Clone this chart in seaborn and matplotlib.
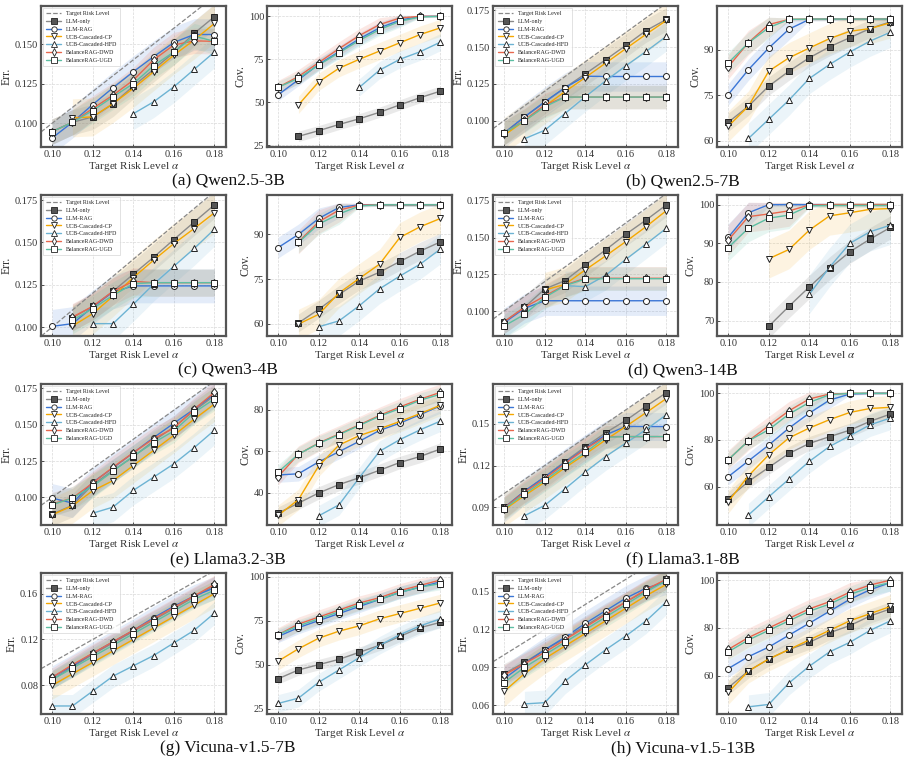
import numpy as np
import pandas as pd
import matplotlib
matplotlib.use("Agg")
import matplotlib.pyplot as plt
from matplotlib.lines import Line2D
from matplotlib.ticker import FormatStrFormatter
import seaborn as sns

N = np.nan
alphas = [0.10, 0.11, 0.12, 0.13, 0.14, 0.15, 0.16, 0.17, 0.18]
methods = ["LLM-only", "LLM-RAG", "UCB-Cascaded-CP", "UCB-Cascaded-HFD",
           "BalanceRAG-DWD", "BalanceRAG-UGD"]
captions = ["(a) Qwen2.5-3B", "(b) Qwen2.5-7B", "(c) Qwen3-4B", "(d) Qwen3-14B",
            "(e) Llama3.2-3B", "(f) Llama3.1-8B", "(g) Vicuna-v1.5-7B", "(h) Vicuna-v1.5-13B"]

# rows: LLM-only, LLM-RAG, CP, HFD, DWD, UGD
qwen25_3b_err = [
    [0.0947, 0.1006, 0.1040, 0.1122, 0.1234, 0.1340, 0.1447, 0.1567, 0.1673],
    [0.0907, 0.1006, 0.1118, 0.1224, 0.1325, 0.1420, 0.1510, 0.1560, 0.1560],
    [N, 0.1034, 0.1040, 0.1124, 0.1220, 0.1325, 0.1430, 0.1525, 0.1630],
    [N, N, N, N, 0.1060, 0.1135, 0.1230, 0.1340, 0.1450],
    [0.0947, 0.1006, 0.1093, 0.1177, 0.1272, 0.1400, 0.1494, 0.1520, 0.1517],
    [0.0947, 0.1006, 0.1080, 0.1167, 0.1250, 0.1363, 0.1450, 0.1550, 0.1517],
]
qwen25_3b_cov = [
    [N, 30.2, 33.5, 37.1, 40.4, 44.2, 48.5, 52.7, 56.5],
    [54.4, 63.1, 72.1, 79.4, 86.9, 93.3, 97.7, 100, 100],
    [N, 48.5, 61.9, 69.8, 75.0, 79.8, 84.6, 89.4, 93.3],
    [N, N, N, N, 58.7, 68.7, 75.0, 79.4, 85.0],
    [58.7, 65.0, 73.1, 81.2, 88.8, 95.2, 99.0, 100, 100],
    [58.7, 64.0, 71.7, 78.8, 86.0, 92.3, 97.1, 99.6, 100],
]
qwen25_7b_err = [
    [0.0915, 0.1025, 0.1124, 0.1224, 0.1318, 0.1414, 0.1512, 0.1613, 0.1689],
    [0.0915, 0.1025, 0.1128, 0.1224, 0.1302, 0.1300, 0.1300, 0.1300, 0.1300],
    [0.0900, 0.0998, 0.1098, 0.1197, 0.1293, 0.1391, 0.1490, 0.1588, 0.1682],
    [N, 0.0876, 0.0934, 0.1048, 0.1162, 0.1270, 0.1373, 0.1471, 0.1574],
    [0.0915, 0.1002, 0.1105, 0.1160, 0.1160, 0.1160, 0.1160, 0.1160, 0.1160],
    [0.0915, 0.0998, 0.1094, 0.1160, 0.1160, 0.1160, 0.1160, 0.1160, 0.1160],
]
qwen25_7b_cov = [
    [66.1, 71.4, 78.0, 82.9, 87.3, 90.9, 93.9, 96.9, 99.1],
    [75.2, 83.4, 90.5, 96.7, 99.9, 100, 100, 100, 100],
    [64.8, 71.4, 82.9, 87.3, 90.5, 93.6, 96.0, 96.9, 98.8],
    [N, 60.8, 67.1, 73.4, 80.5, 85.1, 89.2, 92.8, 95.7],
    [84.3, 92.3, 98.2, 99.9, 100, 100, 100, 100, 100],
    [85.6, 92.2, 97.2, 99.9, 100, 100, 100, 100, 100],
]
qwen3_4b_err = [
    [N, 0.1055, 0.1122, 0.1211, 0.1312, 0.1412, 0.1517, 0.1620, 0.1722],
    [0.1004, 0.1020, 0.1118, 0.1207, 0.1243, 0.1243, 0.1243, 0.1243, 0.1243],
    [N, 0.1006, 0.1079, 0.1182, 0.1292, 0.1395, 0.1493, 0.1582, 0.1675],
    [N, N, 0.1020, 0.1020, 0.1134, 0.1253, 0.1359, 0.1464, 0.1578],
    [N, 0.1059, 0.1122, 0.1211, 0.1270, 0.1262, 0.1262, 0.1262, 0.1262],
    [N, 0.1040, 0.1109, 0.1187, 0.1256, 0.1262, 0.1262, 0.1262, 0.1262],
]
qwen3_4b_cov = [
    [N, 60.2, 64.8, 69.8, 74.3, 77.3, 80.9, 84.4, 87.5],
    [85.6, 90.0, 95.4, 99.1, 100, 100, 100, 100, 100],
    [N, 59.8, 63.1, 70.3, 75.2, 80.0, 89.0, 92.6, 95.4],
    [N, N, 58.9, 60.9, 66.0, 71.7, 76.0, 80.0, 85.1],
    [N, 87.5, 94.3, 98.2, 99.9, 100, 100, 100, 100],
    [N, 87.3, 93.5, 96.9, 99.6, 100, 100, 100, 100],
]
qwen3_14b_err = [
    [0.0927, 0.1025, 0.1150, 0.1207, 0.1314, 0.1416, 0.1523, 0.1620, 0.1723],
    [0.0920, 0.1018, 0.1070, 0.1070, 0.1070, 0.1070, 0.1070, 0.1070, 0.1070],
    [N, N, 0.1143, 0.1182, 0.1280, 0.1375, 0.1473, 0.1575, 0.1684],
    [N, N, N, 0.1173, 0.1166, 0.1243, 0.1352, 0.1457, 0.1564],
    [0.0927, 0.1025, 0.1102, 0.1177, 0.1223, 0.1223, 0.1223, 0.1223, 0.1223],
    [0.0898, 0.0977, 0.1093, 0.1173, 0.1218, 0.1220, 0.1220, 0.1220, 0.1220],
]
qwen3_14b_cov = [
    [N, N, 68.5, 73.7, 78.7, 83.5, 87.8, 91.1, 94.1],
    [91.5, 97.9, 100, 100, 100, 100, 100, 100, 100],
    [N, N, 86.0, 88.4, 93.4, 97.1, 97.9, 98.8, 99.0],
    [N, N, N, N, 76.8, 83.8, 90.0, 93.0, 94.7],
    [90.8, 96.9, 97.6, 98.4, 99.9, 100, 100, 100, 100],
    [88.9, 93.9, 96.5, 97.3, 99.7, 99.8, 99.8, 99.8, 99.8],
]
llama32_3b_err = [
    [0.0885, 0.0945, 0.1088, 0.1185, 0.1279, 0.1388, 0.1485, 0.1596, 0.1700],
    [0.0995, 0.0961, 0.1104, 0.1203, 0.1307, 0.1411, 0.1510, 0.1607, 0.1711],
    [0.0880, 0.0942, 0.1046, 0.1115, 0.1219, 0.1323, 0.1427, 0.1538, 0.1642],
    [N, N, 0.0891, 0.0933, 0.1048, 0.1139, 0.1231, 0.1342, 0.1462],
    [0.0954, 0.0995, 0.1099, 0.1208, 0.1307, 0.1404, 0.1476, 0.1607, 0.1722],
    [0.0949, 0.0995, 0.1076, 0.1180, 0.1284, 0.1376, 0.1457, 0.1584, 0.1677],
]
llama32_3b_cov = [
    [30.3, 35.1, 40.0, 44.0, 47.3, 50.9, 54.6, 57.5, 61.1],
    [48.6, 49.2, 54.9, 59.8, 64.8, 70.0, 73.5, 77.6, 81.8],
    [29.2, 36.8, 53.0, 63.0, 67.5, 70.8, 74.3, 78.1, 82.1],
    [N, N, 29.0, 34.3, 47.3, 60.0, 65.6, 70.3, 74.5],
    [47.8, 58.6, 64.0, 68.3, 72.7, 77.2, 81.3, 85.0, 88.3],
    [50.0, 58.6, 63.8, 68.0, 72.4, 76.8, 80.5, 84.5, 87.4],
]
llama31_8b_err = [
    [0.0900, 0.1016, 0.1120, 0.1229, 0.1335, 0.1435, 0.1524, 0.1626, 0.1723],
    [0.0895, 0.1016, 0.1118, 0.1222, 0.1323, 0.1420, 0.1481, 0.1480, 0.1480],
    [0.0883, 0.0985, 0.1081, 0.1185, 0.1282, 0.1384, 0.1481, 0.1580, 0.1681],
    [N, 0.0840, 0.0915, 0.1033, 0.1154, 0.1265, 0.1362, 0.1459, 0.1565],
    [0.0895, 0.1009, 0.1106, 0.1215, 0.1319, 0.1408, 0.1408, 0.1408, 0.1408],
    [0.0890, 0.0997, 0.1094, 0.1198, 0.1294, 0.1403, 0.1408, 0.1408, 0.1408],
]
llama31_8b_cov = [
    [54.8, 62.2, 68.2, 74.2, 78.5, 81.4, 84.2, 88.0, 91.1],
    [64.2, 71.0, 77.8, 85.1, 91.5, 97.1, 99.7, 100, 100],
    [53.5, 64.6, 73.6, 80.9, 85.1, 88.7, 91.8, 93.5, 94.0],
    [N, 47.8, 55.6, 63.2, 70.8, 77.2, 81.8, 86.5, 89.4],
    [71.5, 79.6, 86.1, 92.5, 97.6, 99.7, 100, 100, 100],
    [71.5, 79.6, 84.4, 91.1, 96.1, 99.4, 100, 100, 100],
]
vicuna_7b_err = [
    [0.085, 0.096, 0.107, 0.117, 0.127, 0.137, 0.147, 0.157, 0.167],
    [0.087, 0.097, 0.108, 0.118, 0.128, 0.139, 0.149, 0.158, 0.165],
    [0.080, 0.090, 0.100, 0.110, 0.120, 0.130, 0.140, 0.150, 0.160],
    [0.062, 0.062, 0.075, 0.088, 0.097, 0.106, 0.117, 0.128, 0.143],
    [0.087, 0.098, 0.108, 0.118, 0.128, 0.138, 0.148, 0.158, 0.168],
    [0.085, 0.095, 0.105, 0.115, 0.125, 0.135, 0.145, 0.155, 0.163],
]
vicuna_7b_cov = [
    [42, 47, 50, 53, 57, 61, 66, 71, 74],
    [66, 71, 75, 79, 83, 87, 91, 94, 97],
    [52, 59, 65, 69, 72, 76, 79, 82, 85],
    [28, 31, 40, 47, 54, 61, 67, 72, 76],
    [67, 73, 77, 81, 85, 88, 92, 95, 98],
    [67, 72, 76, 80, 84, 87, 91, 94, 96],
]
vicuna_13b_err = [
    [0.085, 0.094, 0.104, 0.113, 0.123, 0.133, 0.142, 0.151, 0.160],
    [0.081, 0.093, 0.104, 0.114, 0.125, 0.135, 0.145, 0.153, 0.158],
    [0.071, 0.085, 0.097, 0.107, 0.117, 0.127, 0.137, 0.147, 0.156],
    [N, 0.061, 0.062, 0.079, 0.092, 0.104, 0.115, 0.127, 0.142],
    [0.084, 0.093, 0.102, 0.112, 0.122, 0.132, 0.142, 0.152, 0.160],
    [0.078, 0.090, 0.100, 0.110, 0.120, 0.130, 0.140, 0.150, 0.159],
]
vicuna_13b_cov = [
    [55, 62, 67, 71, 74, 78, 81, 85, 88],
    [63, 68, 72, 77, 82, 87, 92, 96, 99],
    [53, 62, 67, 71, 75, 79, 83, 86, 89],
    [N, 47, 48, 57, 64, 70, 74, 79, 83],
    [71, 76, 80, 84, 88, 91, 95, 98, 100],
    [70, 75, 79, 83, 87, 90, 94, 97, 99],
]

# approximate half-width of the shaded bands, per method
err_band = [0.008, 0.010, 0.012, 0.010, 0.008, 0.008]
cov_band = [3.0, 3.5, 5.0, 5.0, 4.0, 3.5]

err_ticks = [[0.100, 0.125, 0.150], [0.100, 0.125, 0.150, 0.175],
             [0.100, 0.125, 0.150, 0.175], [0.100, 0.125, 0.150, 0.175],
             [0.100, 0.125, 0.150, 0.175], [0.09, 0.12, 0.15],
             [0.08, 0.12, 0.16], [0.06, 0.09, 0.12, 0.15]]
cov_ticks = [[25, 50, 75, 100], [60, 75, 90], [60, 75, 90], [70, 80, 90, 100],
             [40, 60, 80], [60, 80, 100], [25, 50, 75, 100], [60, 80, 100]]
err_ylim = [(0.085, 0.174), (0.082, 0.178), (0.0947, 0.178), (0.083, 0.179),
            (0.081, 0.178), (0.0774, 0.1785), (0.055, 0.178), (0.053, 0.165)]
cov_ylim = [(24, 106), (58, 104.3), (55.8, 103.3), (66, 102.5),
            (24.6, 92.3), (43.5, 104), (22, 102), (44, 103)]

all_err = [qwen25_3b_err, qwen25_7b_err, qwen3_4b_err, qwen3_14b_err,
           llama32_3b_err, llama31_8b_err, vicuna_7b_err, vicuna_13b_err]
all_cov = [qwen25_3b_cov, qwen25_7b_cov, qwen3_4b_cov, qwen3_14b_cov,
           llama32_3b_cov, llama31_8b_cov, vicuna_7b_cov, vicuna_13b_cov]

line_colors = ["#8a8a8a", "#3b76d6", "#f5a800", "#6db3d3", "#e8684e", "#5dbfa3"]
band_colors = ["#6f6f6f", "#4a80d8", "#f2b53a", "#7ab8d8", "#e8684e", "#5dbfa3"]
markers = ["s", "o", "v", "^", "d", "s"]
face_colors = ["#555555", "white", "white", "white", "white", "white"]

sns.set_theme(style="ticks")
plt.rcParams["font.family"] = ["Liberation Serif", "DejaVu Serif"]
plt.rcParams["mathtext.fontset"] = "stix"

fig = plt.figure(figsize=(9.11, 7.6), dpi=100)
W, H = 911, 760
col_left = [41, 267, 493, 717]
row_top = [6, 195, 384, 573]
ax_w, ax_h = 185, 141


def style_axes(ax, ticks, ylim, fmt, ylabel):
    ax.set_xlim(0.0945, 0.1857)
    ax.set_ylim(*ylim)
    ax.set_xticks([0.10, 0.12, 0.14, 0.16, 0.18])
    ax.set_yticks(ticks)
    ax.xaxis.set_major_formatter(FormatStrFormatter("%.2f"))
    ax.yaxis.set_major_formatter(FormatStrFormatter(fmt))
    ax.grid(True, ls="--", lw=0.5, color="#d9d9d9")
    ax.tick_params(direction="in", length=2.5, width=0.6, labelsize=7.5,
                   pad=2, colors="#333333")
    for s in ax.spines.values():
        s.set_linewidth(1.6)
        s.set_color("#555555")
    ax.set_xlabel(r"Target Risk Level $\alpha$", fontsize=8, labelpad=1, color="#333333")
    ax.set_ylabel(ylabel, fontsize=8.5, labelpad=2, color="#333333")


def draw_series(ax, rows, bands, is_cov):
    for k, vals in enumerate(rows):
        v = np.array(vals, dtype=float)
        hw = np.full_like(v, bands[k])
        if is_cov:
            hw = np.where(v >= 99.5, 0.5, hw)
        lo, hi = v - hw, v + hw
        if is_cov:
            hi = np.minimum(hi, 100.6)
        ax.fill_between(alphas, lo, hi, color=band_colors[k], alpha=0.15,
                        lw=0, zorder=1)
        df = pd.DataFrame({"alpha": alphas, "value": v}).dropna()
        sns.lineplot(data=df, x="alpha", y="value", ax=ax, color=line_colors[k],
                     marker=markers[k], markersize=4.3, markerfacecolor=face_colors[k],
                     markeredgecolor="#222222", markeredgewidth=0.7,
                     linewidth=1.0, errorbar=None, zorder=3 + k)


legend_handles = [Line2D([], [], color="#888888", ls="--", lw=0.9, label="Target Risk Level")]
for k, m in enumerate(methods):
    legend_handles.append(Line2D([], [], color=line_colors[k], lw=1.0, marker=markers[k],
                                 markersize=3.8, markerfacecolor=face_colors[k],
                                 markeredgecolor="#222222", markeredgewidth=0.6, label=m))

for i, cap in enumerate(captions):
    r, c = i // 2, (i % 2) * 2
    bottom = 1 - (row_top[r] + ax_h) / H
    ax_e = fig.add_axes([col_left[c] / W, bottom, ax_w / W, ax_h / H])
    ax_c = fig.add_axes([col_left[c + 1] / W, bottom, ax_w / W, ax_h / H])

    ax_e.axline((0.1, 0.1), slope=1, color="#888888", ls="--", lw=0.9, zorder=2)
    draw_series(ax_e, all_err[i], err_band, False)
    draw_series(ax_c, all_cov[i], cov_band, True)

    fmt = "%.3f" if i < 5 else "%.2f"
    style_axes(ax_e, err_ticks[i], err_ylim[i], fmt, "Err.")
    style_axes(ax_c, cov_ticks[i], cov_ylim[i], "%d", "Cov.")

    leg = ax_e.legend(handles=legend_handles, loc="upper left", fontsize=4.3,
                      frameon=True, handlelength=2.6, labelspacing=0.45,
                      borderpad=0.5, handletextpad=0.8, fancybox=False,
                      borderaxespad=0.3)
    leg.get_frame().set_edgecolor("#cccccc")
    leg.get_frame().set_linewidth(0.5)
    leg.set_zorder(20)

    cx = 228 if i % 2 == 0 else 683
    fig.text(cx / W, 1 - (row_top[r] + 175) / H, cap, ha="center", va="center",
             fontsize=12.5, color="#111111")

fig.savefig("out.png", dpi=100)
